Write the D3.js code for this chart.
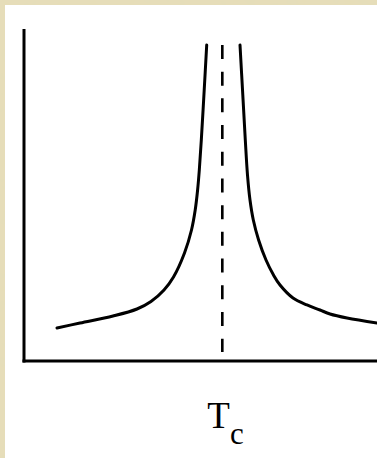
<!DOCTYPE html>
<html>
<head>
<meta charset="utf-8">
<script src="https://cdn.jsdelivr.net/npm/d3@7"></script>
<style>
  html, body { margin: 0; padding: 0; }
  body { width: 377px; height: 458px; overflow: hidden; }
</style>
</head>
<body>
<script>
// Reduced temperature (Tc = 1) and response values for the two branches
const criticalT = 1.0;
const belowT   = [0.1664, 0.2824, 0.4488, 0.5698, 0.6404, 0.7060, 0.7539, 0.8093, 0.8446, 0.8633, 0.8754, 0.8840, 0.8941, 0.9087, 0.9213];
const belowVal = [0.994, 1.145, 1.355, 1.566, 1.792, 2.139, 2.530, 3.253, 3.946, 4.548, 5.151, 5.753, 6.657, 8.163, 9.518];
const aboveT   = [1.0892, 1.1033, 1.1159, 1.1270, 1.1396, 1.1563, 1.1830, 1.2203, 1.2581, 1.2909, 1.3565, 1.4271, 1.4926, 1.5431, 1.6288, 1.7800];
const aboveVal = [9.518, 8.012, 6.657, 5.602, 4.849, 4.247, 3.645, 3.042, 2.590, 2.289, 1.898, 1.687, 1.536, 1.416, 1.295, 1.145];
const axisLabel = "T";
const axisLabelSub = "c";

const W = 377, H = 458;
const svg = d3.select("body").append("svg")
  .attr("width", W).attr("height", H);

// Parchment-like frame
const defs = svg.append("defs");
const f = defs.append("filter").attr("id", "paper")
  .attr("x", 0).attr("y", 0).attr("width", "100%").attr("height", "100%");
f.append("feTurbulence").attr("type", "fractalNoise")
  .attr("baseFrequency", 0.07).attr("numOctaves", 3).attr("seed", 4).attr("result", "noise");
f.append("feColorMatrix").attr("in", "noise").attr("type", "matrix")
  .attr("values", "0 0 0 0 0.78  0 0 0 0 0.73  0 0 0 0 0.52  0 0 0 0.7 0")
  .attr("result", "tint");
f.append("feComposite").attr("in", "tint").attr("in2", "SourceGraphic").attr("operator", "atop");

svg.append("rect").attr("width", W).attr("height", H).attr("fill", "#e6ddb8");
svg.append("rect").attr("width", W).attr("height", H).attr("fill", "#e6ddb8")
  .attr("filter", "url(#paper)").attr("opacity", 0.6);

// White slide panel
svg.append("rect").attr("x", 5).attr("y", 5).attr("width", W - 5).attr("height", H - 5)
  .attr("fill", "#ffffff");

const x = d3.scaleLinear().domain([0, 1.78]).range([24, 377]);
const y = d3.scaleLinear().domain([0, 10]).range([361, 29]);

const g = svg.append("g");

// Axes: plain lines without ticks
g.append("line")
  .attr("x1", x(0)).attr("x2", x(0))
  .attr("y1", y(10)).attr("y2", y(0) + 1.5)
  .attr("stroke", "#000").attr("stroke-width", 3);
g.append("line")
  .attr("x1", x(0) - 1.5).attr("x2", x(1.78))
  .attr("y1", y(0)).attr("y2", y(0))
  .attr("stroke", "#000").attr("stroke-width", 3);

// Critical temperature marker
g.append("line")
  .attr("x1", x(criticalT)).attr("x2", x(criticalT))
  .attr("y1", y(9.52)).attr("y2", y(0.27))
  .attr("stroke", "#000").attr("stroke-width", 2.6)
  .attr("stroke-dasharray", "14 12.7");

const line = d3.line()
  .x(d => x(d[0])).y(d => y(d[1]))
  .curve(d3.curveCatmullRom.alpha(0.5));

const below = belowT.map((t, i) => [t, belowVal[i]]);
const above = aboveT.map((t, i) => [t, aboveVal[i]]);

[below, above].forEach(branch => {
  g.append("path").datum(branch)
    .attr("d", line)
    .attr("fill", "none")
    .attr("stroke", "#000")
    .attr("stroke-width", 3)
    .attr("stroke-linecap", "round");
});

// Axis label
const label = svg.append("text")
  .attr("x", x(criticalT) - 15).attr("y", 428)
  .attr("font-family", "'Liberation Serif', 'Times New Roman', serif")
  .attr("fill", "#000");
label.append("tspan").attr("font-size", 37).text(axisLabel);
label.append("tspan").attr("font-size", 31).attr("dy", 16).text(axisLabelSub);
</script>
</body>
</html>
